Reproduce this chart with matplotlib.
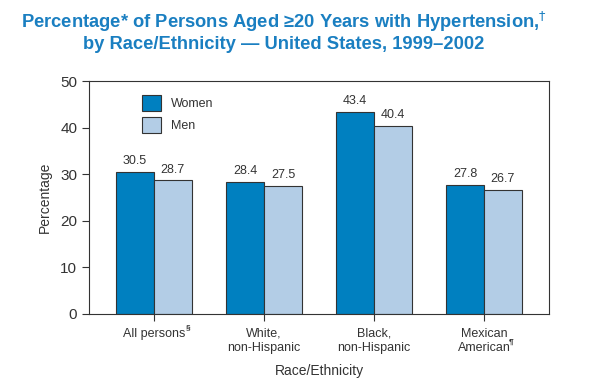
import numpy as np
import matplotlib
matplotlib.use("Agg")
from matplotlib import pyplot as plt

plt.rcParams['font.family'] = ['Liberation Sans', 'DejaVu Sans']

categories = ["All persons", "White,\nnon-Hispanic", "Black,\nnon-Hispanic", "Mexican\nAmerican"]
footnotes = ["§", "", "", "¶"]
women = [30.5, 28.4, 43.4, 27.8]
men = [28.7, 27.5, 40.4, 26.7]

women_color = "#0080c0"
men_color = "#b3cde6"
title_color = "#1a7fc1"
text_color = "#333333"

fig = plt.figure(figsize=(6.14, 3.92), dpi=100)
ax = fig.add_axes([0.145, 0.199, 0.749, 0.594])

x = np.arange(len(categories))
w = 0.345
b1 = ax.bar(x - w / 2, women, w, color=women_color, edgecolor="#333333", linewidth=0.8, label="Women")
b2 = ax.bar(x + w / 2, men, w, color=men_color, edgecolor="#333333", linewidth=0.8, label="Men")

for bars, vals in ((b1, women), (b2, men)):
    for bar, v in zip(bars, vals):
        ax.text(bar.get_x() + bar.get_width() / 2, v + 1, f"{v:.1f}",
                ha="center", va="bottom", fontsize=9, color=text_color)

ax.set_xlim(-0.59, 3.59)
ax.set_ylim(0, 50)
ax.set_yticks(range(0, 51, 10))
ax.set_xticks(x)
ax.set_xticklabels(categories, fontsize=9, color=text_color)
ax.tick_params(axis="y", labelsize=11, colors=text_color, length=5, width=0.8)
ax.tick_params(axis="x", length=5, width=0.8, pad=5, colors=text_color)
for s in ax.spines.values():
    s.set_color("#333333")
    s.set_linewidth(0.8)

# superscript footnote marks after the tick labels
offsets = [0.5, 0, 0, -1.0]
for lab, note, dx in zip(ax.get_xticklabels(), footnotes, offsets):
    if note:
        ax.annotate(note, xy=(1, 0), xycoords=lab, xytext=(dx, 6),
                    textcoords="offset points", fontsize=6, fontweight="bold",
                    color=text_color, ha="left", va="bottom")

ax.set_ylabel("Percentage", fontsize=10, color=text_color, labelpad=6)
ax.set_xlabel("Race/Ethnicity", fontsize=10, color=text_color)
ax.xaxis.set_label_coords(0.5, -0.215)

ax.legend(loc="upper left", bbox_to_anchor=(0.09, 0.99), frameon=False,
          fontsize=9, handlelength=1.55, handleheight=1.6, labelspacing=0.5,
          labelcolor=text_color)

fig.text(0.462, 0.975, "Percentage* of Persons Aged ≥20 Years with Hypertension,$^{†}$\n"
         "by Race/Ethnicity — United States, 1999–2002",
         ha="center", va="top", fontsize=13.2, fontweight="bold", color=title_color,
         linespacing=1.15)

fig.savefig("out.png", dpi=100)
